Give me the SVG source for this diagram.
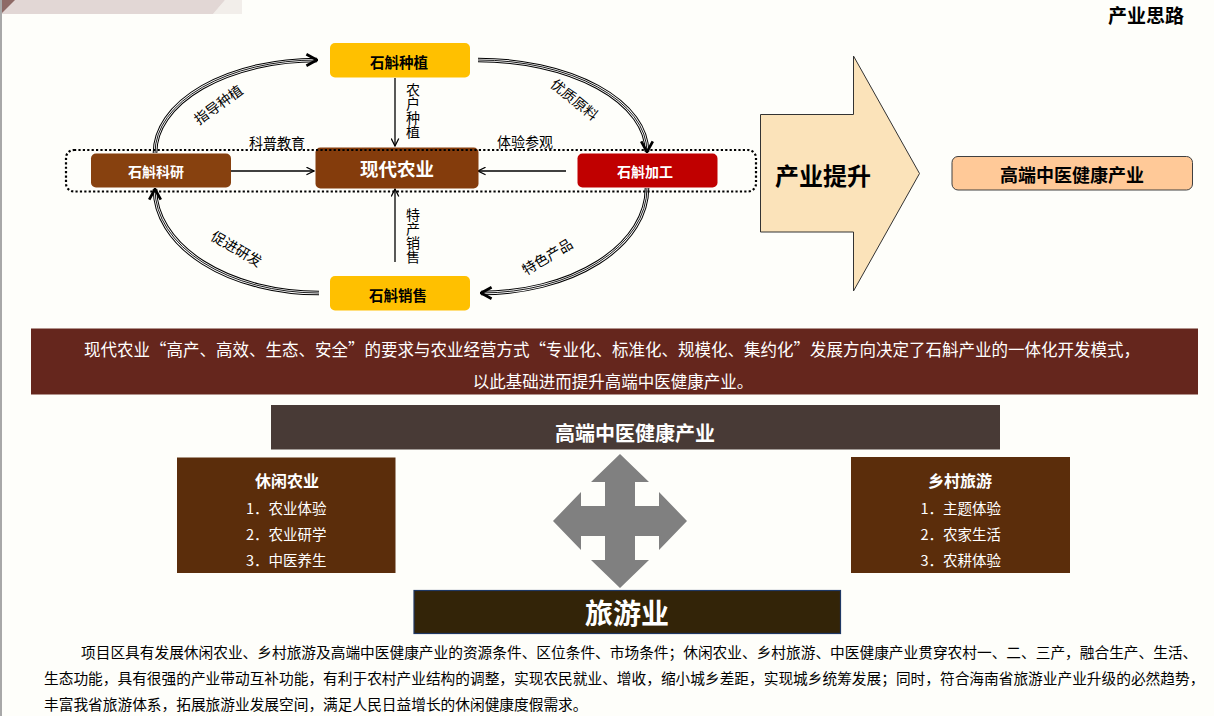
<svg xmlns="http://www.w3.org/2000/svg" width="1214" height="716" viewBox="0 0 1214 716">
<defs>
<style>
text{font-family:'Noto Sans CJK SC','Noto Sans',sans-serif;dominant-baseline:central}
.b{font-weight:bold}
.w{fill:#fff}
.k{fill:#000}
.lbl{font-size:14px;fill:#000}
.vl{font-size:14px;fill:#000;writing-mode:vertical-rl}
.mid{text-anchor:middle}
.c1{fill:none;stroke:#000;stroke-width:4.6}
.c2{fill:none;stroke:#fff;stroke-width:2.6}
.c3{fill:none;stroke:#000;stroke-width:0.9}
.c4{fill:none;stroke:none;marker-end:url(#arrThick)}
.s{fill:none;stroke:#000;stroke-width:1.3;marker-end:url(#arrThin)}
.brown{fill:#5B2D0B}
</style>
<marker id="arrThin" viewBox="0 0 10 10" refX="9.4" refY="5" markerWidth="9" markerHeight="9" orient="auto" markerUnits="userSpaceOnUse">
<path d="M1,0.8 L9.4,5 L1,9.2" fill="none" stroke="#000" stroke-width="1.4"/>
</marker>
<marker id="arrThick" viewBox="0 0 14 14" refX="12.6" refY="7" markerWidth="14" markerHeight="14" orient="auto" markerUnits="userSpaceOnUse">
<path d="M2,1.2 L12.6,7 L2,12.8" fill="none" stroke="#000" stroke-width="2.7"/>
</marker>
</defs>
<rect x="0" y="0" width="1214" height="716" fill="#FEFEFA"/>
<g id="banner">
<polygon points="213,14 225,0 242,0 242,14" fill="#F2EEEA"/>
<polygon points="0,0 225,0 213,14 0,14" fill="#E2D7D5"/>
<polygon points="2,0 15,0 2,13" fill="#8E6A66"/>
<line x1="1" y1="0" x2="1" y2="716" stroke="#A8A8A8" stroke-width="2"/>
</g>
<g id="title"><text x="1146" y="14" class="b k mid" font-size="19">产业思路</text></g>

<g id="connectors">
<path class="c1" d="M155,153 A162,93 0 0 1 317,60"/><path class="c2" d="M155,153 A162,93 0 0 1 317,60"/><path class="c3" d="M155,153 A162,93 0 0 1 317,60"/><path class="c4" d="M155,153 A162,93 0 0 1 317,60"/>
<path class="c1" d="M478,60 A169,92 0 0 1 647,152"/><path class="c2" d="M478,60 A169,92 0 0 1 647,152"/><path class="c3" d="M478,60 A169,92 0 0 1 647,152"/><path class="c4" d="M478,60 A169,92 0 0 1 647,152"/>
<path class="c1" d="M647,188 A166,105 0 0 1 481,293"/><path class="c2" d="M647,188 A166,105 0 0 1 481,293"/><path class="c3" d="M647,188 A166,105 0 0 1 481,293"/><path class="c4" d="M647,188 A166,105 0 0 1 481,293"/>
<path class="c1" d="M319,293 A164,104 0 0 1 155,189"/><path class="c2" d="M319,293 A164,104 0 0 1 155,189"/><path class="c3" d="M319,293 A164,104 0 0 1 155,189"/><path class="c4" d="M319,293 A164,104 0 0 1 155,189"/>
<path class="s" d="M395,78 L395,146"/>
<path class="s" d="M395,262 L395,189"/>
<path class="s" d="M231,171 L314,171"/>
<path class="s" d="M566,171 L478,171"/>
<text class="lbl mid" x="218" y="104" transform="rotate(-36 218 104)">指导种植</text>
<text class="lbl mid" x="575" y="99" transform="rotate(39 575 99)">优质原料</text>
<text class="lbl mid" x="547" y="256" transform="rotate(-31 547 256)">特色产品</text>
<text class="lbl mid" x="237" y="248" transform="rotate(30 237 248)">促进研发</text>
<text class="lbl mid" x="277" y="142">科普教育</text>
<text class="lbl mid" x="525" y="141">体验参观</text>
<text class="vl" x="413" y="83">农户种植</text>
<text class="vl" x="413" y="208">特产销售</text>
</g>

<g id="node-zhongzhi"><rect x="330" y="43" width="140" height="34.5" rx="5" fill="#FFC000"/><text x="399" y="61" class="b k mid" font-size="14.5">石斛种植</text></g>
<g id="node-xiandai"><rect x="315.5" y="147.5" width="163" height="41" rx="5" fill="#843C0C"/><text x="397" y="168" class="b w mid" font-size="18.5">现代农业</text></g>
<g id="node-keyan"><rect x="91" y="153.5" width="140" height="34" rx="5" fill="#87410F"/><text x="156" y="170.5" class="b w mid" font-size="14">石斛科研</text></g>
<g id="node-jiagong"><rect x="577.5" y="153.5" width="140" height="34" rx="5" fill="#C00000"/><text x="645" y="170.5" class="b w mid" font-size="14">石斛加工</text></g>
<g id="node-xiaoshou"><rect x="330" y="276" width="140" height="34.5" rx="5" fill="#FFC000"/><text x="398" y="294" class="b k mid" font-size="14.5">石斛销售</text></g>
<g id="group-frame"><rect x="66" y="150" width="690" height="41.5" rx="8" fill="none" stroke="#000" stroke-width="2.2" stroke-dasharray="2.2 2.2"/></g>

<g id="node-tisheng"><polygon points="760.5,114.5 853.5,114.5 853.5,56 919.5,173.5 853.5,291 853.5,232 760.5,232" fill="#FBE3BA" stroke="#333" stroke-width="1"/><text x="823" y="174" class="b k mid" font-size="24">产业提升</text></g>
<g id="node-gaoduan-top"><rect x="952" y="156.5" width="240.5" height="33.5" rx="6" fill="#FFC998" stroke="#404040" stroke-width="1"/><text x="1072" y="173.5" class="b k mid" font-size="18">高端中医健康产业</text></g>

<g id="band"><rect x="31" y="328.5" width="1167" height="66" fill="#65261D"/>
<text x="612" y="348.5" class="w mid" font-size="16.5">现代农业“高产、高效、生态、安全”的要求与农业经营方式“专业化、标准化、规模化、集约化”发展方向决定了石斛产业的一体化开发模式，</text>
<text x="613" y="381" class="w mid" font-size="16.5">以此基础进而提升高端中医健康产业。</text></g>

<g id="node-gaoduan"><rect x="271" y="405" width="729" height="44.5" fill="#483A36"/><text x="635" y="432" class="b w mid" font-size="20">高端中医健康产业</text></g>
<g id="node-xiuxian"><rect x="177" y="457.5" width="218.5" height="115.5" class="brown"/>
<text x="287" y="480" class="b w mid" font-size="16">休闲农业</text>
<text x="246" y="507" class="w" font-size="14.5">1．农业体验</text>
<text x="246" y="533.5" class="w" font-size="14.5">2．农业研学</text>
<text x="246" y="559.5" class="w" font-size="14.5">3．中医养生</text></g>
<g id="node-xiangcun"><rect x="851" y="457" width="219" height="116" class="brown"/>
<text x="960" y="480" class="b w mid" font-size="16">乡村旅游</text>
<text x="920.5" y="507" class="w" font-size="14.5">1．主题体验</text>
<text x="920.5" y="533.5" class="w" font-size="14.5">2．农家生活</text>
<text x="920.5" y="559.5" class="w" font-size="14.5">3．农耕体验</text></g>
<g id="quad-arrow"><polygon points="620,454 649,482 635,482 635,506 659,506 659,492 687,521 659,550 659,536 635,536 635,560 649,560 620,588 591,560 605,560 605,536 581,536 581,550 553,521 581,492 581,506 605,506 605,482 591,482" fill="#808080"/></g>
<g id="node-lvyou"><rect x="414" y="590.5" width="426.5" height="43" fill="#332408" stroke="#1F3864" stroke-width="1.2"/><text x="627" y="612" class="b w mid" font-size="28">旅游业</text></g>

<g id="paragraph">
<text x="81" y="651" class="k" font-size="14.7">项目区具有发展休闲农业、乡村旅游及高端中医健康产业的资源条件、区位条件、市场条件；休闲农业、乡村旅游、中医健康产业贯穿农村一、二、三产，融合生产、生活、</text>
<text x="44" y="677" class="k" font-size="14.7">生态功能，具有很强的产业带动互补功能，有利于农村产业结构的调整，实现农民就业、增收，缩小城乡差距，实现城乡统筹发展；同时，符合海南省旅游业产业升级的必然趋势，</text>
<text x="44" y="703" class="k" font-size="14.7">丰富我省旅游体系，拓展旅游业发展空间，满足人民日益增长的休闲健康度假需求。</text>
</g>
</svg>
